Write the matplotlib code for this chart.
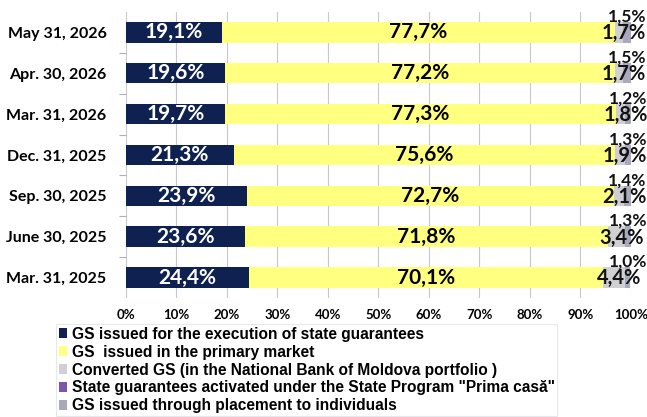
import numpy as np
import matplotlib
matplotlib.use("Agg")
import matplotlib.pyplot as plt

# rows from bottom to top
dates = ["Mar. 31, 2025", "June 30, 2025", "Sep. 30, 2025", "Dec. 31, 2025",
         "Mar. 31, 2026", "Apr. 30, 2026", "May 31, 2026"]
state_guar = [24.4, 23.6, 23.9, 21.3, 19.7, 19.6, 19.1]
primary = [70.1, 71.8, 72.7, 75.6, 77.3, 77.2, 77.7]
converted = [4.4, 3.4, 2.1, 1.9, 1.8, 1.7, 1.7]
prima_casa = [0.0, 0.0, 0.0, 0.0, 0.0, 0.0, 0.0]
individuals = [1.0, 1.3, 1.4, 1.3, 1.2, 1.5, 1.5]

legend_labels = [
    "GS issued for the execution of state guarantees",
    "GS  issued in the primary market",
    "Converted GS (in the National Bank of Moldova portfolio )",
    "State guarantees activated under the State Program \"Prima casă\"",
    "GS issued through placement to individuals",
]
colors = ["#0f2150", "#ffff80", "#cfcfd4", "#7e55a8", "#a9a9bd"]

def fmt(v):
    return f"{v:.1f}%".replace(".", ",")

fig = plt.figure(figsize=(6.47, 4.17), dpi=100)
ax = fig.add_axes([0.1947, 0.2854, 0.7805, 0.686])

y = np.arange(len(dates))
h = 0.5
series = [state_guar, primary, converted, prima_casa, individuals]
left = np.zeros(len(dates))
for vals, c, lab in zip(series, colors, legend_labels):
    ax.barh(y, vals, left=left, height=h, color=c, label=lab, zorder=3)
    left += np.array(vals)

lf = "Lato"
for i in range(len(dates)):
    ax.text(state_guar[i] / 2, y[i], fmt(state_guar[i]), color="white",
            ha="center", va="center", fontsize=15, fontweight="bold", family=lf, zorder=4)
    ax.text(state_guar[i] + primary[i] / 2, y[i], fmt(primary[i]), color="black",
            ha="center", va="center", fontsize=15, fontweight="bold", family=lf, zorder=4)
    cx = state_guar[i] + primary[i] + converted[i] / 2 + 1.0
    ax.text(cx, y[i] - 0.02, fmt(converted[i]), color="#111111",
            ha="center", va="center", fontsize=14.5, fontweight="bold", family=lf, zorder=4)
    ix = 100 - individuals[i] / 2
    ax.text(ix, y[i] + h / 2 - 0.06, fmt(individuals[i]), color="#111111",
            ha="center", va="bottom", fontsize=12.5, fontweight="bold", family=lf, zorder=4)

ax.set_xlim(0, 100)
ax.set_ylim(-0.5, len(dates) - 0.5)
ax.set_xticks(np.arange(0, 101, 10))
ax.set_xticklabels([f"{t}%" for t in range(0, 101, 10)], fontsize=9.5, fontweight="bold", family=lf)
ax.set_yticks(y)
ax.set_yticklabels(dates, fontsize=11.5, fontweight="bold", family=lf)
ax.set_yticks(np.arange(0.5, len(dates) - 1, 1), minor=True)
ax.tick_params(axis="y", which="major", length=0, pad=14)
ax.tick_params(axis="y", which="minor", length=5, color="#b0b0b0", width=0.8)
ax.tick_params(axis="x", length=0, pad=8)
ax.grid(axis="x", color="#c8c8c8", linewidth=0.8, zorder=0)
for s in ax.spines.values():
    s.set_visible(False)

handles, labels = ax.get_legend_handles_labels()
leg = fig.legend(handles, labels, loc="upper left", bbox_to_anchor=(0.075, 0.241),
                 prop={"family": "Liberation Sans", "weight": "bold", "size": 11.2},
                 handlelength=0.55, handleheight=0.55, handletextpad=0.3,
                 labelspacing=0.19, frameon=True, fancybox=False, borderpad=0.15)
leg.get_frame().set_edgecolor("#e0e4e8")
leg.get_frame().set_linewidth(0.8)

fig.savefig("out.png", dpi=100)
